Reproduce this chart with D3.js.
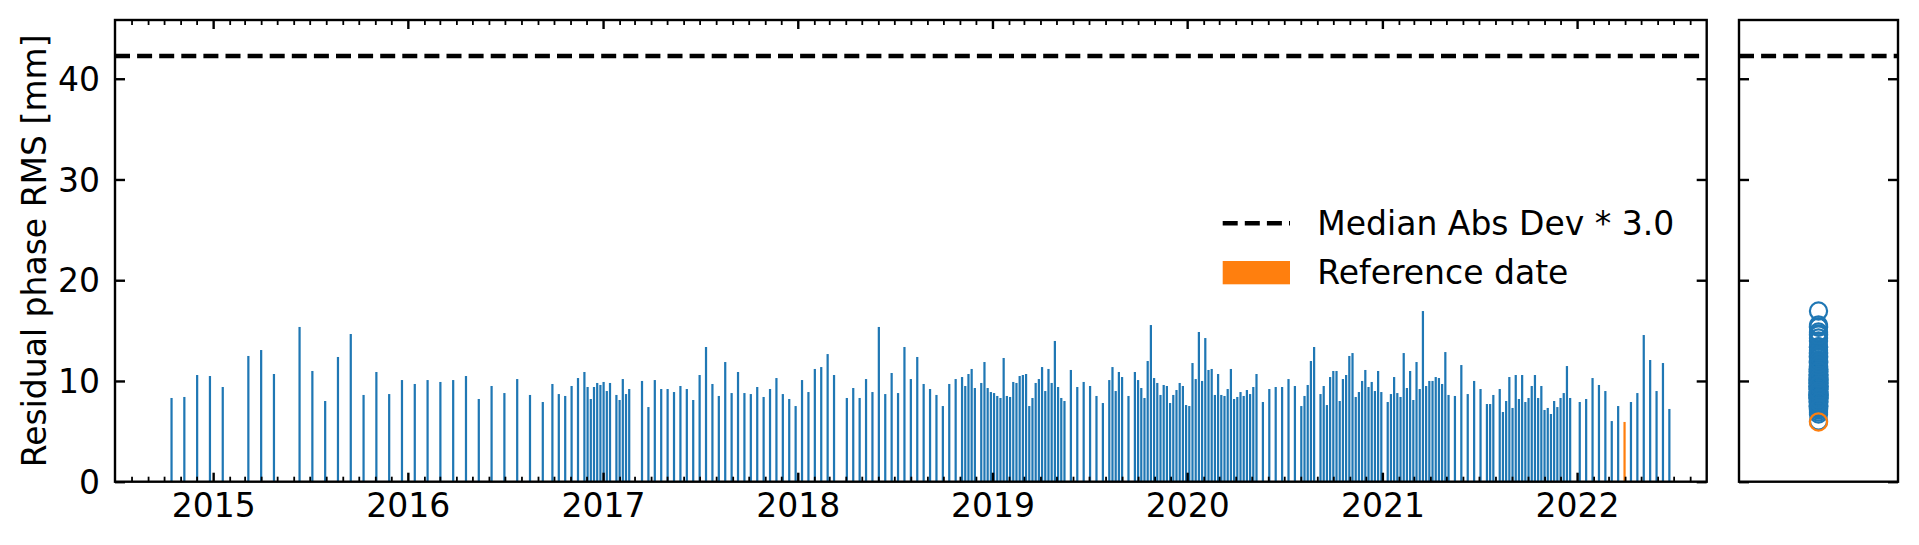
<!DOCTYPE html>
<html><head><meta charset="utf-8">
<script src="https://cdn.jsdelivr.net/npm/d3@7"></script>
<style>
html,body{margin:0;padding:0;background:#fff;}
svg{display:block;font-family:"DejaVu Sans",sans-serif;}
</style></head><body>
<svg id="chart" width="1919" height="545"></svg>
<script>
// ---------------- data ----------------
const dates = [
"2014-10-15","2014-11-08","2014-12-02","2014-12-26",
"2015-01-19","2015-03-08","2015-04-01","2015-04-25","2015-06-12","2015-07-06","2015-07-30","2015-08-23","2015-09-16","2015-10-10","2015-11-03","2015-11-27","2015-12-21",
"2016-01-14","2016-02-07","2016-03-02","2016-03-26","2016-04-19","2016-05-13","2016-06-06","2016-06-30","2016-07-24","2016-08-17","2016-09-10","2016-09-28","2016-10-10","2016-10-22","2016-11-03","2016-11-15","2016-11-27","2016-12-03","2016-12-09","2016-12-15","2016-12-21","2016-12-27",
"2017-01-02","2017-01-08","2017-01-14","2017-01-26","2017-02-01","2017-02-07","2017-02-13","2017-02-19","2017-03-15","2017-03-27","2017-04-08","2017-04-20","2017-05-02","2017-05-14","2017-05-26","2017-06-07","2017-06-19","2017-07-01","2017-07-13","2017-07-25","2017-08-06","2017-08-18","2017-08-30","2017-09-11","2017-09-23","2017-10-05","2017-10-17","2017-10-29","2017-11-10","2017-11-22","2017-12-04","2017-12-16","2017-12-28",
"2018-01-09","2018-01-21","2018-02-02","2018-02-14","2018-02-26","2018-03-10","2018-04-03","2018-04-15","2018-04-27","2018-05-09","2018-05-21","2018-06-02","2018-06-14","2018-06-26","2018-07-08","2018-07-20","2018-08-01","2018-08-13","2018-08-25","2018-09-06","2018-09-18","2018-09-30","2018-10-12","2018-10-24","2018-11-05","2018-11-11","2018-11-17","2018-11-23","2018-11-29","2018-12-11","2018-12-17","2018-12-23","2018-12-29",
"2019-01-04","2019-01-10","2019-01-16","2019-01-22","2019-01-28","2019-02-03","2019-02-09","2019-02-15","2019-02-21","2019-02-27","2019-03-05","2019-03-11","2019-03-17","2019-03-23","2019-03-29","2019-04-04","2019-04-10","2019-04-16","2019-04-22","2019-04-28","2019-05-04","2019-05-10","2019-05-16","2019-05-28","2019-06-09","2019-06-21","2019-07-03","2019-07-15","2019-07-27","2019-08-08","2019-08-14","2019-08-20","2019-08-26","2019-09-01","2019-09-13","2019-09-25","2019-10-01","2019-10-07","2019-10-13","2019-10-19","2019-10-25","2019-10-31","2019-11-06","2019-11-12","2019-11-18","2019-11-24","2019-11-30","2019-12-06","2019-12-12","2019-12-18","2019-12-24","2019-12-30",
"2020-01-05","2020-01-11","2020-01-17","2020-01-23","2020-01-29","2020-02-04","2020-02-10","2020-02-16","2020-02-22","2020-02-28","2020-03-05","2020-03-11","2020-03-17","2020-03-23","2020-03-29","2020-04-04","2020-04-10","2020-04-16","2020-04-22","2020-04-28","2020-05-04","2020-05-10","2020-05-22","2020-06-03","2020-06-15","2020-06-27","2020-07-09","2020-07-21","2020-08-02","2020-08-08","2020-08-14","2020-08-20","2020-08-26","2020-09-07","2020-09-13","2020-09-19","2020-09-25","2020-10-01","2020-10-07","2020-10-13","2020-10-19","2020-10-25","2020-10-31","2020-11-06","2020-11-12","2020-11-18","2020-11-24","2020-11-30","2020-12-06","2020-12-12","2020-12-18","2020-12-24","2020-12-30",
"2021-01-11","2021-01-17","2021-01-23","2021-01-29","2021-02-04","2021-02-10","2021-02-16","2021-02-22","2021-02-28","2021-03-06","2021-03-12","2021-03-18","2021-03-24","2021-03-30","2021-04-05","2021-04-11","2021-04-17","2021-04-23","2021-04-29","2021-05-05","2021-05-17","2021-05-29","2021-06-10","2021-06-22","2021-07-04","2021-07-16","2021-07-22","2021-07-28","2021-08-09","2021-08-15","2021-08-21","2021-08-27","2021-09-02","2021-09-08","2021-09-14","2021-09-20","2021-09-26","2021-10-02","2021-10-08","2021-10-14","2021-10-20","2021-10-26","2021-11-01","2021-11-07","2021-11-13","2021-11-19","2021-11-25","2021-12-01","2021-12-07","2021-12-13","2021-12-19",
"2022-01-06","2022-01-18","2022-01-30","2022-02-11","2022-02-23","2022-03-07","2022-03-19","2022-03-31","2022-04-12","2022-04-24","2022-05-06","2022-05-18","2022-05-30","2022-06-11","2022-06-23"
];
const rms = [
8.31,8.41,10.59,10.49,
9.40,12.48,13.07,10.69,15.36,10.99,8.01,12.38,14.66,8.61,10.89,8.70,10.09,
9.70,10.09,9.90,10.09,10.49,8.21,9.50,8.80,10.19,8.61,7.91,9.70,8.70,8.51,9.50,10.29,10.89,9.40,8.21,9.40,9.80,9.60,
9.90,9.00,9.80,8.61,8.11,10.19,8.70,9.20,10.00,7.41,10.09,9.20,9.20,8.90,9.50,9.20,8.11,10.59,13.37,9.70,8.51,11.88,8.80,10.89,8.80,8.70,9.40,8.41,9.20,10.29,8.70,8.21,7.51,
10.09,8.90,11.19,11.38,12.67,10.59,8.31,9.30,8.31,10.19,8.90,15.36,8.70,10.79,8.80,13.37,10.19,12.38,9.70,9.20,8.61,7.51,9.70,10.19,10.39,9.50,10.69,11.19,9.30,9.80,11.88,9.30,8.90,
8.80,8.51,8.31,12.28,8.51,8.41,9.90,9.80,10.49,10.59,10.69,7.51,8.31,9.80,10.19,11.38,9.00,11.19,9.80,13.97,9.40,8.31,8.01,11.09,9.40,9.90,9.50,8.51,7.81,10.09,11.38,9.00,10.89,10.39,8.51,10.89,10.09,9.30,8.31,11.98,15.55,10.29,9.80,8.61,9.60,9.50,7.81,8.61,9.10,9.80,9.50,7.61,
7.51,11.78,10.19,14.86,10.00,14.26,11.09,11.19,8.61,10.69,8.61,8.51,9.20,11.19,8.21,8.41,8.90,8.51,9.10,8.70,9.40,10.69,7.91,9.20,9.40,9.40,10.19,9.50,7.51,8.51,9.60,11.98,13.37,8.70,9.50,7.61,10.39,10.99,10.99,8.01,10.19,10.59,12.48,12.77,8.41,8.90,10.00,11.09,9.40,9.90,9.00,10.99,8.90,
7.91,8.70,10.39,8.80,8.41,12.77,9.30,10.99,8.11,11.88,9.20,16.94,9.50,10.00,10.00,10.39,10.29,9.70,12.87,8.61,8.51,11.58,8.70,10.00,9.20,7.71,7.71,8.61,9.20,6.92,8.01,10.39,7.32,10.59,8.21,10.59,7.91,8.31,9.50,10.59,8.31,9.50,7.12,7.32,6.72,8.01,7.41,8.31,8.80,11.48,8.31,
7.91,8.21,10.29,9.60,9.00,6.02,7.51,5.93,7.91,8.80,14.56,12.08,9.00,11.78,7.22
];
const refDate = "2022-03-31";
const madThreshold = 42.25;            // Median Abs Dev * 3.0
const yTickValues = [0, 10, 20, 30, 40];
const xTickYears = [2015, 2016, 2017, 2018, 2019, 2020, 2021, 2022];
const legendLabels = ["Median Abs Dev * 3.0", "Reference date"];
const yLabel = "Residual phase RMS [mm]";

// ---------------- layout ----------------
const FS = 33;
const main = {x0: 115, x1: 1706.7, y0: 20, y1: 481.7};
const side = {x0: 1739, x1: 1898};
const BLUE = "#1f77b4", ORANGE = "#ff7f0e";
const svg = d3.select("#chart");
const parse = d3.utcParse("%Y-%m-%d");
const data = dates.map((d, i) => ({date: parse(d), key: d, v: rms[i]}));

const x = d3.scaleUtc()
  .domain([new Date(Date.UTC(2014, 6, 1)), new Date(Date.UTC(2022, 8, 1))])
  .range([main.x0, main.x1]);
const y = d3.scaleLinear().domain([0, 45.83]).range([main.y1, main.y0]);
const xs = d3.scalePoint().domain(["all"]).range([side.x0, side.x1]).padding(0.5);

// bars
const barDays = 4.2;
svg.append("g").selectAll("rect").data(data).join("rect")
  .attr("x", d => x(d.date) - (x(d3.utcHour.offset(d.date, barDays * 24)) - x(d.date)) / 2)
  .attr("width", d => x(d3.utcHour.offset(d.date, barDays * 24)) - x(d.date))
  .attr("y", d => y(d.v))
  .attr("height", d => y(0) - y(d.v))
  .attr("fill", d => d.key === refDate ? ORANGE : BLUE);

// threshold lines
const dash = "15,7.1";
const LW = 4.6;
svg.append("line").attr("x1", main.x0).attr("x2", main.x1)
  .attr("y1", y(madThreshold)).attr("y2", y(madThreshold))
  .attr("stroke", "#000").attr("stroke-width", LW).attr("stroke-dasharray", dash);
svg.append("line").attr("x1", side.x0).attr("x2", side.x1)
  .attr("y1", y(madThreshold)).attr("y2", y(madThreshold))
  .attr("stroke", "#000").attr("stroke-width", LW).attr("stroke-dasharray", dash);

// side scatter
const sideData = data.filter(d => d.key !== refDate).concat(data.filter(d => d.key === refDate));
svg.append("g").selectAll("circle").data(sideData).join("circle")
  .attr("cx", xs("all")).attr("cy", d => y(d.v)).attr("r", 8.6)
  .attr("fill", "none").attr("stroke-width", 2.2)
  .attr("stroke", d => d.key === refDate ? ORANGE : BLUE);

// axes
function styleAxis(g, w) {
  g.select(".domain").remove();
  g.selectAll(".tick line").attr("stroke", "#000").attr("stroke-width", w);
  g.selectAll("text").attr("font-size", FS).attr("fill", "#000")
    .attr("font-family", "DejaVu Sans, sans-serif");
}
const majorX = xTickYears.map(yr => new Date(Date.UTC(yr, 0, 1)));
const minorX = d3.utcMonth.range(new Date(Date.UTC(2014, 7, 1)), new Date(Date.UTC(2022, 8, 1)))
  .filter(d => d.getUTCMonth() !== 0);

// bottom
svg.append("g").attr("transform", `translate(0,${main.y1})`)
  .call(d3.axisBottom(x).tickValues(minorX).tickSize(-5).tickFormat(""))
  .call(g => styleAxis(g, 1.8));
svg.append("g").attr("transform", `translate(0,${main.y1})`)
  .call(d3.axisBottom(x).tickValues(majorX).tickSize(-9).tickFormat(d3.utcFormat("%Y")))
  .call(g => styleAxis(g, 2.4))
  .call(g => g.selectAll("text").attr("y", 35.6).attr("dy", null));
// top
svg.append("g").attr("transform", `translate(0,${main.y0})`)
  .call(d3.axisTop(x).tickValues(minorX).tickSize(-5).tickFormat(""))
  .call(g => styleAxis(g, 1.8));
svg.append("g").attr("transform", `translate(0,${main.y0})`)
  .call(d3.axisTop(x).tickValues(majorX).tickSize(-9).tickFormat(""))
  .call(g => styleAxis(g, 2.4));
// left / right of main
svg.append("g").attr("transform", `translate(${main.x0},0)`)
  .call(d3.axisLeft(y).tickValues(yTickValues).tickSize(-10).tickPadding(15))
  .call(g => styleAxis(g, 2.4))
  .call(g => g.selectAll("text").attr("dy", "0.35em"));
svg.append("g").attr("transform", `translate(${main.x1},0)`)
  .call(d3.axisRight(y).tickValues(yTickValues).tickSize(-10).tickFormat(""))
  .call(g => styleAxis(g, 2.4));
// side panel y ticks
svg.append("g").attr("transform", `translate(${side.x0},0)`)
  .call(d3.axisLeft(y).tickValues(yTickValues).tickSize(-10).tickFormat(""))
  .call(g => styleAxis(g, 2.4));
svg.append("g").attr("transform", `translate(${side.x1},0)`)
  .call(d3.axisRight(y).tickValues(yTickValues).tickSize(-10).tickFormat(""))
  .call(g => styleAxis(g, 2.4));

// frames
svg.append("rect").attr("x", main.x0).attr("y", main.y0)
  .attr("width", main.x1 - main.x0).attr("height", main.y1 - main.y0)
  .attr("fill", "none").attr("stroke", "#000").attr("stroke-width", 2.4);
svg.append("rect").attr("x", side.x0).attr("y", main.y0)
  .attr("width", side.x1 - side.x0).attr("height", main.y1 - main.y0)
  .attr("fill", "none").attr("stroke", "#000").attr("stroke-width", 2.4);

// y label
svg.append("text").attr("transform", `translate(45.6,${(main.y0 + main.y1) / 2}) rotate(-90)`)
  .attr("text-anchor", "middle").attr("font-size", FS).attr("fill", "#000")
  .text(yLabel);

// legend
const lg = svg.append("g");
lg.append("line").attr("x1", 1222.7).attr("x2", 1290).attr("y1", 223.3).attr("y2", 223.3)
  .attr("stroke", "#000").attr("stroke-width", LW).attr("stroke-dasharray", dash);
lg.append("text").attr("x", 1317.3).attr("y", 235).attr("font-size", FS).text(legendLabels[0]);
lg.append("rect").attr("x", 1222.7).attr("y", 261).attr("width", 67.3).attr("height", 23.3).attr("fill", ORANGE);
lg.append("text").attr("x", 1317.3).attr("y", 284.3).attr("font-size", FS).text(legendLabels[1]);
</script>
</body></html>
